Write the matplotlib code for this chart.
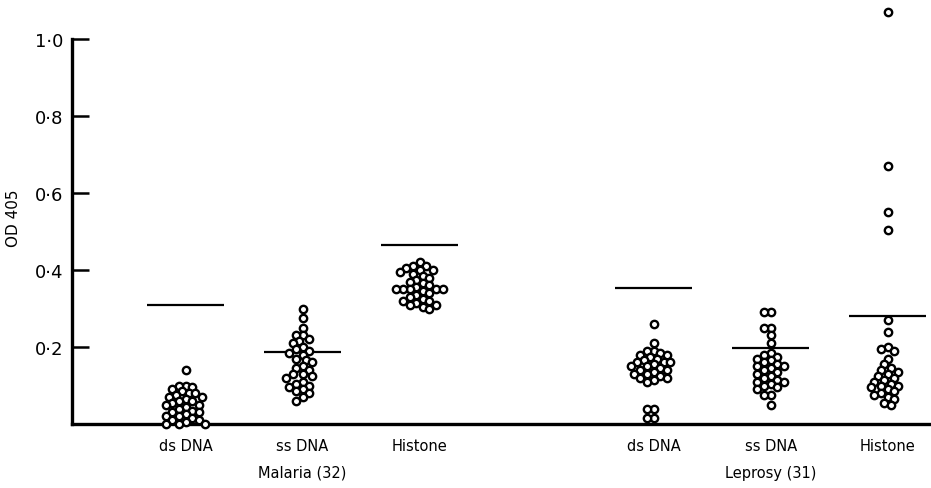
import matplotlib
matplotlib.use('Agg')
import matplotlib.pyplot as plt
import numpy as np

# positions des categories (unites de categorie)
positions = [0, 1, 2, 4, 5, 6]
cat_labels = ['ds DNA', 'ss DNA', 'Histone', 'ds DNA', 'ss DNA', 'Histone']
group_labels = ['Malaria (32)', 'Leprosy (31)']
group_pos = [1, 5]

mal_ds = [0.14, 0.10, 0.10, 0.095, 0.09, 0.085, 0.08, 0.08, 0.075, 0.07, 0.07,
          0.065, 0.06, 0.06, 0.055, 0.05, 0.05, 0.045, 0.04, 0.035, 0.03, 0.03,
          0.025, 0.02, 0.02, 0.015, 0.01, 0.01, 0.005, 0.0, 0.0, 0.0]
mal_ss = [0.30, 0.275, 0.25, 0.23, 0.23, 0.22, 0.215, 0.21, 0.20, 0.195, 0.19,
          0.185, 0.18, 0.17, 0.165, 0.16, 0.15, 0.145, 0.14, 0.13, 0.13, 0.125,
          0.12, 0.11, 0.105, 0.10, 0.095, 0.09, 0.085, 0.08, 0.07, 0.06]
mal_hist = [0.42, 0.41, 0.41, 0.405, 0.40, 0.40, 0.395, 0.39, 0.385, 0.38, 0.375,
            0.37, 0.365, 0.36, 0.355, 0.35, 0.35, 0.35, 0.35, 0.35, 0.345, 0.34,
            0.335, 0.33, 0.325, 0.32, 0.32, 0.315, 0.31, 0.31, 0.305, 0.30]
lep_ds = [0.26, 0.21, 0.19, 0.19, 0.185, 0.18, 0.18, 0.175, 0.17, 0.165, 0.16,
          0.16, 0.16, 0.155, 0.15, 0.15, 0.145, 0.14, 0.14, 0.135, 0.13, 0.13,
          0.125, 0.12, 0.12, 0.115, 0.11, 0.04, 0.04, 0.015, 0.015]
lep_ss = [0.29, 0.29, 0.25, 0.25, 0.23, 0.21, 0.185, 0.18, 0.175, 0.17, 0.165,
          0.16, 0.155, 0.15, 0.15, 0.145, 0.14, 0.135, 0.13, 0.125, 0.12, 0.115,
          0.11, 0.11, 0.105, 0.10, 0.095, 0.09, 0.075, 0.075, 0.05]
lep_hist = [1.07, 0.67, 0.55, 0.505, 0.27, 0.24, 0.20, 0.195, 0.19, 0.17, 0.155,
            0.145, 0.14, 0.135, 0.13, 0.125, 0.12, 0.115, 0.11, 0.105, 0.10, 0.10,
            0.095, 0.09, 0.085, 0.08, 0.075, 0.07, 0.065, 0.055, 0.05]
series = [mal_ds, mal_ss, mal_hist, lep_ds, lep_ss, lep_hist]

# lignes horizontales (seuils)
cutoffs = [0.31, 0.187, 0.465, 0.353, 0.197, 0.28]

yticks = [0.2, 0.4, 0.6, 0.8, 1.0]
ytick_labels = ['0·2', '0·4', '0·6', '0·8', '1·0']

W, H = 931, 489
fig = plt.figure(figsize=(W / 100, H / 100), dpi=100)
ax = fig.add_axes([72 / W, (H - 425) / H, 1 - 72 / W, 425 / H])
ax.set_xlim(-0.97, 6.37)
ax.set_ylim(0, 1.104)

# conversion pixels <-> donnees pour le placement en essaim
px_x = (W - 72) / (6.37 + 0.97)
px_y = 425 / 1.104
d = 6.6  # espacement des points en pixels


def swarm(vals):
    placed = []
    offs = []
    for v in vals:
        yp = v * px_y
        cands = [0]
        for i in range(1, 14):
            cands += [-0.5 * i * d, 0.5 * i * d]
        for c in cands:
            ok = True
            for (px, py) in placed:
                if (px - c) ** 2 + (py - yp) ** 2 < (d * 0.9) ** 2:
                    ok = False
                    break
            if ok:
                break
        placed.append((c, yp))
        offs.append(c / px_x)
    return offs


for pos, vals in zip(positions, series):
    offs = swarm(vals)
    ax.plot(pos + np.array(offs), vals, 'o', ms=5.3, mfc='white', mec='black',
            mew=1.7, clip_on=False, zorder=3)

for pos, c in zip(positions, cutoffs):
    ax.hlines(c, pos - 0.33, pos + 0.33, color='black', lw=1.6, zorder=2)

for s in ['top', 'right']:
    ax.spines[s].set_visible(False)
ax.spines['left'].set_linewidth(2.4)
ax.spines['left'].set_bounds(0, 1.0)
ax.spines['bottom'].set_linewidth(2.4)
ax.set_xticks([])
ax.set_yticks(yticks)
ax.set_yticklabels(ytick_labels, fontsize=13)
ax.tick_params(axis='y', direction='in', length=12, width=1.8, pad=6)

for pos, lab in zip(positions, cat_labels):
    ax.text(pos, -0.055, lab, ha='center', va='center', fontsize=10.5)
for pos, lab in zip(group_pos, group_labels):
    ax.text(pos, -0.125, lab, ha='center', va='center', fontsize=10.5)

fig.text(14 / W, 1 - 218 / H, 'OD 405', rotation=90, ha='center', va='center',
         fontsize=11)

fig.savefig('out.png', dpi=100)
